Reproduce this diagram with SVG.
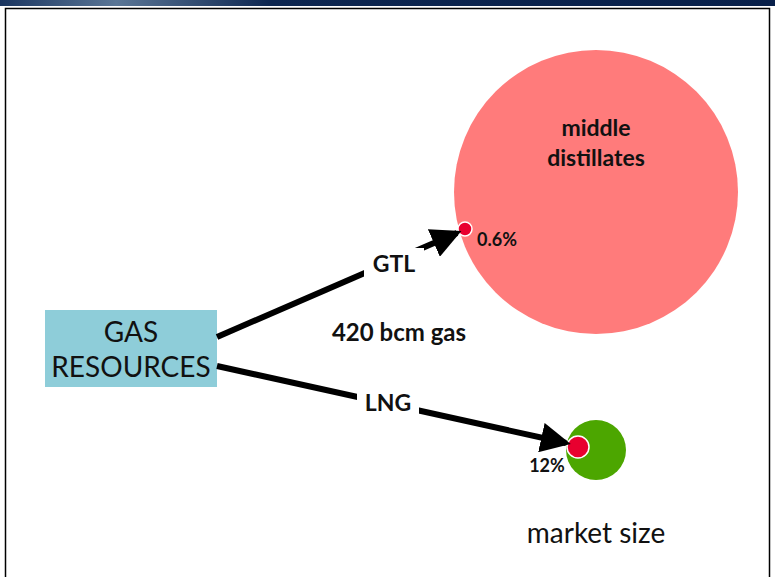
<svg xmlns="http://www.w3.org/2000/svg" width="775" height="577" viewBox="0 0 775 577">
  <defs>
    <linearGradient id="band" x1="0" y1="0" x2="1" y2="0">
      <stop offset="0" stop-color="#1a3560"/>
      <stop offset="0.15" stop-color="#5a7696"/>
      <stop offset="0.35" stop-color="#0d2650"/>
      <stop offset="1" stop-color="#08204a"/>
    </linearGradient>
    <marker id="head" markerWidth="5" markerHeight="5" refX="4.2" refY="2.5" orient="auto" markerUnits="strokeWidth">
      <path d="M0,0 L5,2.5 L0,5 Z" fill="#000"/>
    </marker>
    <style>
      .lbl { font-family: Lato, "Liberation Sans", sans-serif; font-weight: bold; fill: #111; text-anchor: middle; }
      .reg { font-family: Lato, "Liberation Sans", sans-serif; fill: #111; text-anchor: middle; }
      .conn { stroke: #000; stroke-width: 6; fill: none; marker-end: url(#head); }
      .dot { fill: #e8002f; stroke: #fff; stroke-width: 1.5; }
    </style>
  </defs>

  <rect width="775" height="577" fill="#fff"/>
  <!-- header band and page frame -->
  <rect x="0" y="0" width="775" height="6" fill="url(#band)"/>
  <rect x="5.5" y="8.5" width="764" height="580" fill="none" stroke="#000" stroke-width="1.5"/>

  <!-- market circles -->
  <g id="middle-distillates">
    <circle cx="596" cy="192" r="142" fill="#ff7b7b"/>
    <text class="lbl" x="596" y="136" font-size="23">middle</text>
    <text class="lbl" x="596" y="166" font-size="23">distillates</text>
    <circle class="dot" cx="465" cy="229" r="7"/>
    <text class="lbl" x="497" y="246" font-size="18">0.6%</text>
  </g>

  <g id="lng-market">
    <circle cx="596" cy="450" r="30" fill="#4ca600"/>
    <circle class="dot" cx="578" cy="447" r="11"/>
    <text class="lbl" x="547" y="472" font-size="18">12%</text>
  </g>

  <g id="gas-resources">
    <rect x="45" y="310" width="172" height="77" fill="#8ecdd9"/>
    <text class="reg" x="131" y="342" font-size="28">GAS</text>
    <text class="reg" x="131" y="377" font-size="28">RESOURCES</text>
  </g>

  <!-- connectors -->
  <g id="connectors">
    <line class="conn" x1="217" y1="337" x2="457" y2="233"/>
    <line class="conn" x1="217" y1="366" x2="566" y2="443"/>
    <rect x="364" y="248" width="60" height="32" fill="#fff"/>
    <text class="lbl" x="394" y="272" font-size="23">GTL</text>
    <rect x="357" y="388" width="62" height="32" fill="#fff"/>
    <text class="lbl" x="388" y="411" font-size="23">LNG</text>
  </g>

  <text class="lbl" x="399" y="341" font-size="24">420 bcm gas</text>
  <text class="reg" x="596" y="543" font-size="28">market size</text>
</svg>
